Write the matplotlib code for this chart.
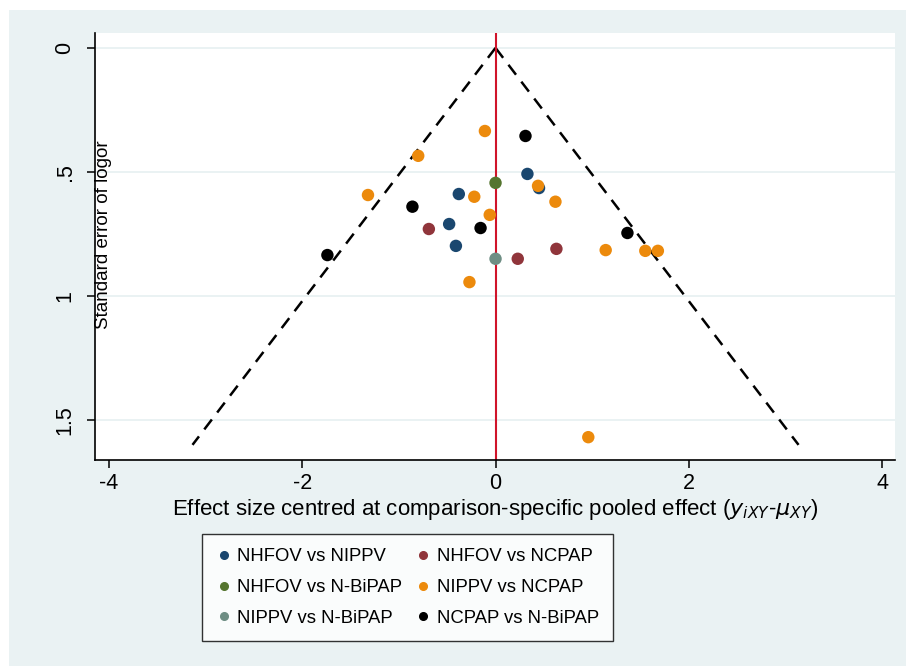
import matplotlib
matplotlib.use("Agg")
import matplotlib.pyplot as plt
from matplotlib.lines import Line2D
import numpy as np

plt.rcParams['font.family'] = ['Liberation Sans', 'DejaVu Sans']

# ---- data (effect size centred, standard error) ----
nhfov_nippv_x = [0.33, -0.38, -0.48, -0.41, 0.45]
nhfov_nippv_y = [0.508, 0.589, 0.71, 0.798, 0.565]

nhfov_ncpap_x = [-0.69, 0.23, 0.63]
nhfov_ncpap_y = [0.73, 0.85, 0.81]

nhfov_nbipap_x = [0.0]
nhfov_nbipap_y = [0.544]

nippv_ncpap_x = [-0.11, -0.80, -1.32, -0.22, -0.06, 0.44, 0.62, 1.14, 1.55, 1.68, -0.27, 0.96]
nippv_ncpap_y = [0.335, 0.435, 0.593, 0.60, 0.673, 0.556, 0.62, 0.815, 0.818, 0.818, 0.944, 1.569]

nippv_nbipap_x = [0.0]
nippv_nbipap_y = [0.85]

ncpap_nbipap_x = [0.31, -0.86, -1.74, -0.155, 1.365]
ncpap_nbipap_y = [0.355, 0.64, 0.835, 0.726, 0.746]

series_labels = ["NHFOV vs NIPPV", "NHFOV vs NCPAP", "NHFOV vs N-BiPAP",
                 "NIPPV vs NCPAP", "NIPPV vs N-BiPAP", "NCPAP vs N-BiPAP"]
colors = ["#1a476f", "#90353b", "#55752f", "#ec8a0c", "#6e8e84", "#000000"]

x_ticks = [-4, -2, 0, 2, 4]
y_ticks = [0, 0.5, 1, 1.5]
y_ticklabels = ["0", ".5", "1", "1.5"]
se_max = 1.6

# ---- figure ----
bg = "#eaf2f3"
fig = plt.figure(figsize=(9.06, 6.66), dpi=100, facecolor="white")
fig.patches.append(plt.Rectangle((9/906, 0), 1 - 9/906, 1 - 10/666,
                                 transform=fig.transFigure, facecolor=bg,
                                 edgecolor="none", zorder=-10))

ax = fig.add_axes([95/906, 1 - 460/666, 800/906, 427/666])
ax.set_facecolor("white")

ax.set_xlim(-4.145, 4.134)
ax.set_ylim(1.661, -0.06)

for yt in y_ticks:
    ax.axhline(yt, color=bg, lw=1.4, zorder=0)

se = np.array([0.0, se_max])
ax.plot(-1.96 * se, se, color="black", lw=1.8, ls=(0, (5, 3.5)), zorder=2)
ax.plot(1.96 * se, se, color="black", lw=1.8, ls=(0, (5, 3.5)), zorder=2)
ax.axvline(0, color="#d0142a", lw=1.5, zorder=2)

data = [(nhfov_nippv_x, nhfov_nippv_y), (nhfov_ncpap_x, nhfov_ncpap_y),
        (nhfov_nbipap_x, nhfov_nbipap_y), (nippv_ncpap_x, nippv_ncpap_y),
        (nippv_nbipap_x, nippv_nbipap_y), (ncpap_nbipap_x, ncpap_nbipap_y)]
draw_order = [5, 0, 1, 3, 2, 4]
for i in draw_order:
    xs, ys = data[i]
    ax.scatter(xs, ys, s=80, color=colors[i], edgecolors="none", zorder=3)

for s in ["top", "right"]:
    ax.spines[s].set_visible(False)
for s in ["left", "bottom"]:
    ax.spines[s].set_linewidth(1.2)

ax.set_xticks(x_ticks)
ax.set_xticklabels([str(t) for t in x_ticks])
ax.set_yticks(y_ticks)
ax.set_yticklabels(y_ticklabels, rotation=90, va="center")
ax.tick_params(axis="both", labelsize=15.5, length=6, width=1.1, direction="out")
ax.tick_params(axis="y", pad=8)

ax.set_xlabel("Effect size centred at comparison-specific pooled effect ($y_{iXY}$-$\\mu_{XY}$)",
              fontsize=16, labelpad=2)
ax.text(103.5/906, 1 - 235/666, "Standard error of logor", transform=fig.transFigure,
        rotation=90, ha="center", va="center", fontsize=13.5)

order = [0, 2, 4, 1, 3, 5]
handles = [Line2D([], [], marker="o", ls="none", color=colors[i], markersize=5.5)
           for i in order]
labels = [series_labels[i] for i in order]
leg = fig.legend(handles, labels, ncol=2, loc="center",
                 bbox_to_anchor=(407.5/906, 1 - 587.5/666),
                 fontsize=13.3,
                 frameon=True, fancybox=False, edgecolor="black",
                 handletextpad=0.35, columnspacing=0.7, labelspacing=0.74,
                 borderpad=0.75, handlelength=0.8)
leg.get_frame().set_linewidth(1.0)
leg.get_frame().set_facecolor("white")

fig.savefig("out.png", dpi=100, facecolor=fig.get_facecolor())
